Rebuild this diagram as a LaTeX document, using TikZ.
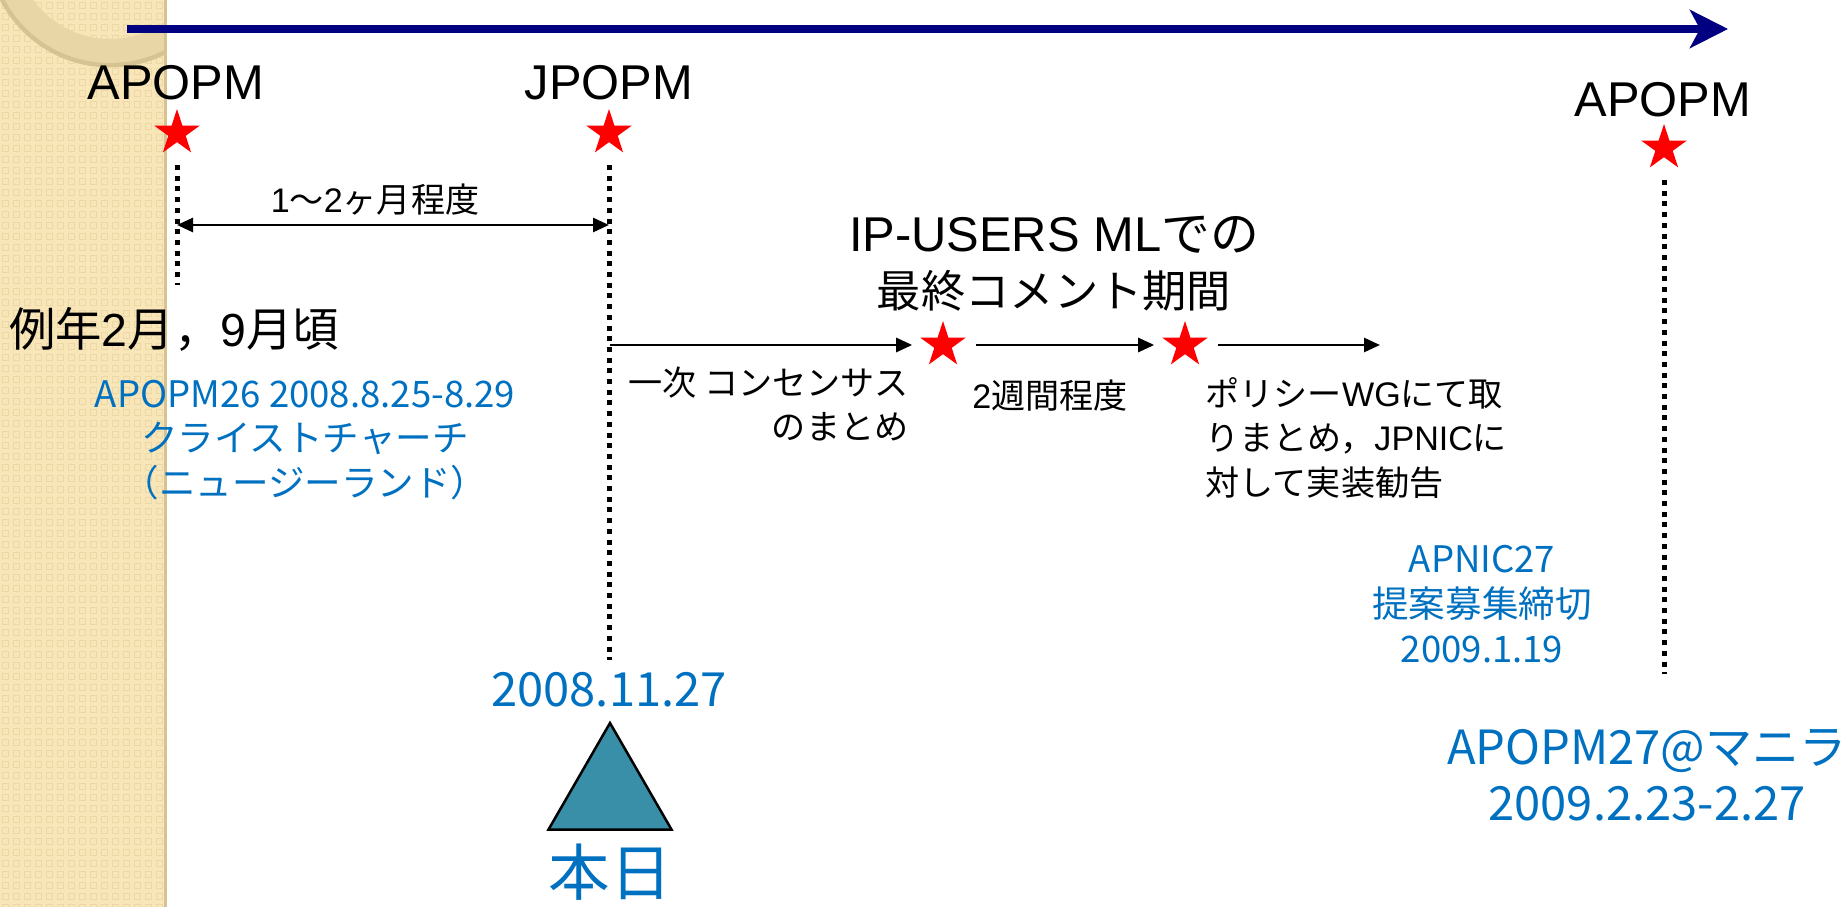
\documentclass[tikz,border=0pt]{standalone}
\usepackage{fontspec}
\setmainfont{Liberation Sans}
\newfontfamily\jp{Noto Sans CJK JP}
\usetikzlibrary{arrows.meta,shapes.geometric}

\definecolor{navyline}{RGB}{0,0,128}
\definecolor{noteblue}{RGB}{0,112,192}
\definecolor{todayteal}{RGB}{58,143,168}
\definecolor{paper}{RGB}{248,230,184}
\definecolor{paperdot}{RGB}{236,216,166}
\definecolor{ring}{RGB}{232,214,166}
\definecolor{ringshade}{RGB}{214,195,146}

\begin{document}
\begin{tikzpicture}[
    bigtxt/.style={font=\fontsize{13.9}{16}\selectfont},
    smalltxt/.style={font=\fontsize{9.7}{12.6}\selectfont},
    bluetxt/.style={text=noteblue,font=\jp\fontsize{10.4}{12.7}\selectfont},
    bluebig/.style={text=noteblue,font=\jp\fontsize{13.4}{16}\selectfont},
    redstar/.style={star,star points=5,star point ratio=2.618,fill=red,draw=none,minimum size=0.48cm,inner sep=0pt},
    dotline/.style={line width=0.05cm,dash pattern=on 0.05cm off 0.057cm},
    flow/.style={line width=0.027cm,-{Triangle[length=0.16cm,width=0.14cm]}},
    span/.style={line width=0.027cm,{Triangle[length=0.16cm,width=0.14cm]}-{Triangle[length=0.16cm,width=0.14cm]}}]
    \useasboundingbox (0,0) rectangle (18.48,-9.07);

    % beige side strip
    \begin{scope}
        \clip (0,0) rectangle (1.65,-9.07);
        \fill[paper] (0,0) rectangle (1.65,-9.07);
        \foreach \i in {0,...,14}{
            \foreach \j in {0,...,82}{
                \draw[paperdot,line width=0.012cm](\i*0.11+0.025,-\j*0.11-0.025) rectangle ++(0.06,-0.06);
            }
        }
        \draw[ringshade,line width=0.05cm](1.10,0.56) circle (1.21);
        \draw[ring,line width=0.24cm](1.10,0.56) circle (1.07);
    \end{scope}
    \draw[ringshade,line width=0.03cm](1.65,0)--(1.65,-9.07);

    % time axis
    \coordinate (axisL) at (1.27,-0.29);
    \coordinate (axisR) at (17.28,-0.29);
    \draw[navyline,line width=0.075cm,-{Stealth[length=0.38cm,width=0.38cm,inset=0.1cm]}](axisL)--(axisR);

    % meetings
    \node[bigtxt] (apopmA) at (1.76,-0.83) {APOPM};
    \node[redstar] (starA) at (1.77,-1.33) {};
    \node[bigtxt] (jpopm) at (6.09,-0.83) {JPOPM};
    \node[redstar] (starJ) at (6.09,-1.33) {};
    \node[bigtxt] (apopmB) at (16.63,-1.00) {APOPM};
    \node[redstar] (starB) at (16.64,-1.48) {};

    \coordinate (footA) at (1.77,-2.85);
    \coordinate (footJ) at (6.09,-6.60);
    \coordinate (footB) at (16.64,-6.74);
    \draw[dotline]([yshift=-0.22cm]starA.south)--(footA);
    \draw[dotline]([yshift=-0.22cm]starJ.south)--(footJ);
    \draw[dotline]([yshift=-0.22cm]starB.south)--(footB);

    \coordinate (spanL) at (1.77,-2.25);
    \coordinate (spanR) at (6.09,-2.25);
    \draw[span](spanL)--(spanR);
    \node[smalltxt] (gap) at (3.75,-2.00) {1{\jp 〜}2{\jp ヶ月程度}};

    \node[font=\fontsize{13.2}{16}\selectfont] (yearly) at (1.74,-3.29) {{\jp 例年}2{\jp 月，}9{\jp 月頃}};
    \node[bluetxt,align=center] (prev) at (3.05,-4.40) {APOPM26 2008.8.25-8.29\\クライストチャーチ\\（ニュージーランド）};

    % comment period
    \coordinate (flowS) at (6.10,-3.45);
    \node[redstar] (starC) at (9.43,-3.45) {};
    \node[redstar] (starD) at (11.85,-3.45) {};
    \coordinate (flowE) at (13.80,-3.45);
    \draw[flow,shorten >=0.17cm](flowS)--(starC);
    \draw[flow,shorten <=0.19cm,shorten >=0.17cm](starC)--(starD);
    \draw[flow,shorten <=0.19cm](starD)--(flowE);

    \node[bigtxt,align=center] (lastcall) at (10.54,-2.64) {IP-USERS ML{\jp での}\\{\jp\fontsize{12.6}{16}\selectfont 最終コメント期間}};
    \node[align=right,anchor=east,inner sep=0pt,font=\jp\fontsize{9.7}{12.6}\selectfont] (first) at (9.09,-4.04) {一次 コンセンサス\\のまとめ\hspace{0.7em}};
    \node[smalltxt] (twowk) at (10.50,-3.96) {2{\jp 週間程度}};
    \node[smalltxt,align=left,anchor=west,inner sep=0pt] (wg) at (12.05,-4.38) {{\jp ポリシー}WG{\jp にて取}\\{\jp りまとめ，}JPNIC{\jp に}\\{\jp 対して実装勧告}};

    \node[bluetxt,align=center] (apnic) at (14.82,-6.04) {APNIC27\\提案募集締切\\2009.1.19};
    \node[bluebig,align=center] (manila) at (16.47,-7.75) {APOPM27@マニラ\\2009.2.23-2.27};

    % today
    \node[bluebig] (date) at (6.09,-6.90) {2008.11.27};
    \node[regular polygon,regular polygon sides=3,minimum size=1.42cm,inner sep=0pt,fill=todayteal,draw=black,line width=0.025cm] (today) at (6.10,-7.94) {};
    \node[text=noteblue,font=\jp\fontsize{17.5}{20}\selectfont] (honjitsu) at (6.10,-8.72) {本日};
\end{tikzpicture}
\end{document}
